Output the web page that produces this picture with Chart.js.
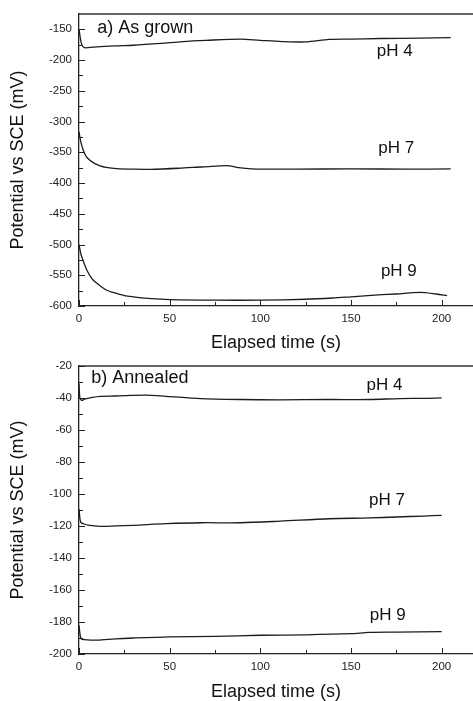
<!DOCTYPE html>
<html>
<head>
<meta charset="utf-8">
<script src="https://cdn.jsdelivr.net/npm/chart.js@4.4.1/dist/chart.umd.min.js"></script>
<style>
  html, body { margin: 0; padding: 0; background: #fff; }
  body { width: 473px; height: 701px; position: relative; overflow: hidden; }
  .panel { position: absolute; left: 0; width: 473px; }
  #wrapA { top: 0; height: 352px; }
  #wrapB { top: 352px; height: 349px; }
</style>
</head>
<body>
<div class="panel" id="wrapA"><canvas id="chartA"></canvas></div>
<div class="panel" id="wrapB"><canvas id="chartB"></canvas></div>
<script>
var FONT = "'Liberation Sans', Arial, Helvetica, sans-serif";

// axis ticks
var xTicks = [0, 50, 100, 150, 200];
var xMinor = [25, 75, 125, 175];
var yTicksA = [-150, -200, -250, -300, -350, -400, -450, -500, -550, -600];
var yMinorA = [-175, -225, -275, -325, -375, -425, -475, -525, -575];
var yTicksB = [-20, -40, -60, -80, -100, -120, -140, -160, -180, -200];
var yMinorB = [-30, -50, -70, -90, -110, -130, -150, -170, -190];

// a) As grown
var tA4 = [0, 0.5, 1.5, 3, 8, 20, 30, 45, 57, 70, 89, 100, 112, 125, 138, 150, 166, 188, 205];
var vA4 = [-150, -160, -175, -180, -179, -177, -176, -173, -170, -168, -166, -168, -170, -170.5, -166.5, -166, -165, -164.5, -163.5];
var tA7 = [0, 1, 2.4, 4, 6, 8.5, 11.6, 15, 20.8, 30, 39, 55, 66.7, 76, 83, 88, 95, 120, 150, 180, 205];
var vA7 = [-317, -333, -347, -357, -363, -368, -372, -374.5, -376.5, -377.5, -377.7, -376, -374, -372.5, -372, -375, -377, -377.5, -377, -377.5, -377];
var tA9 = [0, 1, 2.5, 4.2, 7, 9, 11.6, 15, 18.8, 25, 30, 40, 50, 75, 100, 125, 140, 150, 165, 175, 188, 197, 203];
var vA9 = [-500, -515, -528, -541, -555, -561, -567, -574, -578, -583, -585, -588, -589.5, -590.5, -590.5, -589, -587, -585, -582, -580.5, -578, -580.5, -583];

// b) Annealed
var tB4 = [0, 0.5, 1.5, 3.3, 6, 11.6, 20, 37, 48, 67, 89, 110, 138, 160, 177, 190, 200];
var vB4 = [-31, -40, -41.5, -40.6, -40, -39, -38.8, -38.3, -39, -40.4, -41, -41.2, -41, -41, -40.4, -40.3, -40];
var tB7 = [0, 0.6, 1.2, 2.4, 5, 11.6, 20, 30, 48, 67, 89, 111, 138, 160, 175, 190, 200];
var vB7 = [-109.5, -116, -118, -118.6, -119.5, -120.2, -120, -119.6, -118.6, -118, -118, -117, -115.5, -115, -114.4, -113.8, -113.4];
var tB9 = [0, 0.6, 1.2, 3, 10, 20, 30, 50, 75, 100, 125, 150, 160, 175, 200];
var vB9 = [-182, -188, -190.5, -191, -191.3, -190.5, -190, -189.3, -189, -188.3, -188, -187.3, -186.5, -186.3, -186];

// text placed in the plots (data coordinates, left/baseline)
var labelsA = [
  { text: 'a) As grown', x: 10, y: -156.5, size: 18 },
  { text: 'pH 4', x: 164.2, y: -193, size: 17 },
  { text: 'pH 7', x: 165, y: -352, size: 17 },
  { text: 'pH 9', x: 166.5, y: -552, size: 17 }
];
var labelsB = [
  { text: 'b) Annealed', x: 6.8, y: -30.7, size: 18 },
  { text: 'pH 4', x: 158.6, y: -34.9, size: 17 },
  { text: 'pH 7', x: 160, y: -106.9, size: 17 },
  { text: 'pH 9', x: 160.4, y: -179, size: 17 }
];

function pairs(ts, vs) {
  var out = [];
  for (var i = 0; i < ts.length; i++) out.push({ x: ts[i], y: vs[i] });
  return out;
}

function curve(ts, vs) {
  return {
    data: pairs(ts, vs),
    borderColor: '#1c1c1c',
    borderWidth: 1.3,
    pointRadius: 0,
    tension: 0.3,
    fill: false
  };
}

var frame = {
  id: 'frame',
  afterDraw: function(chart, args, opts) {
    var ctx = chart.ctx, a = chart.chartArea;
    var xs = chart.scales.x, ys = chart.scales.y;
    ctx.save();
    ctx.strokeStyle = '#333';
    ctx.lineWidth = 1.5;
    ctx.beginPath();
    ctx.moveTo(a.left, a.top);
    ctx.lineTo(a.right, a.top);
    ctx.stroke();

    ctx.strokeStyle = '#222';
    ctx.lineWidth = 1;
    function xTick(v, len) {
      var px = Math.round(xs.getPixelForValue(v)) + 0.5;
      ctx.beginPath(); ctx.moveTo(px, a.bottom); ctx.lineTo(px, a.bottom - len); ctx.stroke();
    }
    function yTick(v, len) {
      var py = Math.round(ys.getPixelForValue(v)) + 0.5;
      ctx.beginPath(); ctx.moveTo(a.left, py); ctx.lineTo(a.left + len, py); ctx.stroke();
    }
    xTicks.forEach(function(v) { xTick(v, 6); });
    xMinor.forEach(function(v) { xTick(v, 4); });
    opts.yMajor.forEach(function(v) { yTick(v, 6); });
    opts.yMinor.forEach(function(v) { yTick(v, 4); });

    ctx.fillStyle = '#111';
    ctx.textAlign = 'left';
    ctx.textBaseline = 'alphabetic';
    opts.labels.forEach(function(l) {
      ctx.font = l.size + 'px ' + FONT;
      ctx.fillText(l.text, xs.getPixelForValue(l.x), ys.getPixelForValue(l.y));
    });
    ctx.restore();
  }
};

function makeChart(id, sets, yMin, yMax, yMajor, yMinor, labels, padTop, xHeight) {
  return new Chart(document.getElementById(id), {
    type: 'line',
    data: { datasets: sets },
    plugins: [frame],
    options: {
      responsive: true,
      maintainAspectRatio: false,
      animation: false,
      layout: { padding: { top: padTop, right: 0, bottom: 0, left: 0 } },
      plugins: {
        legend: { display: false },
        tooltip: { enabled: false },
        frame: { yMajor: yMajor, yMinor: yMinor, labels: labels }
      },
      scales: {
        x: {
          type: 'linear',
          min: 0,
          max: 217.3,
          afterBuildTicks: function(s) { s.ticks = xTicks.map(function(v) { return { value: v }; }); },
          afterFit: function(s) { s.height = xHeight; },
          grid: { drawOnChartArea: false, drawTicks: false },
          border: { display: true, color: '#222', width: 1.3 },
          ticks: { padding: 6, color: '#222', font: { family: FONT, size: 11.5 }, maxRotation: 0 },
          title: {
            display: true,
            text: 'Elapsed time (s)',
            color: '#111',
            padding: 0,
            font: { family: FONT, size: 18, lineHeight: 1 }
          }
        },
        y: {
          type: 'linear',
          min: yMin,
          max: yMax,
          afterBuildTicks: function(s) { s.ticks = yMajor.map(function(v) { return { value: v }; }); },
          afterFit: function(s) { s.width = 79; },
          grid: { drawOnChartArea: false, drawTicks: false },
          border: { display: true, color: '#222', width: 1.3 },
          ticks: { padding: 7, color: '#222', font: { family: FONT, size: 11.5 } },
          title: {
            display: true,
            text: 'Potential vs SCE (mV)',
            color: '#111',
            padding: { top: 9, bottom: 0 },
            font: { family: FONT, size: 18, lineHeight: 1 }
          }
        }
      }
    }
  });
}

makeChart('chartA', [curve(tA4, vA4), curve(tA7, vA7), curve(tA9, vA9)],
  -600, -125, yTicksA, yMinorA, labelsA, 13, 46);
makeChart('chartB', [curve(tB4, vB4), curve(tB7, vB7), curve(tB9, vB9)],
  -200, -20, yTicksB, yMinorB, labelsB, 10.5, 47);
</script>
</body>
</html>
